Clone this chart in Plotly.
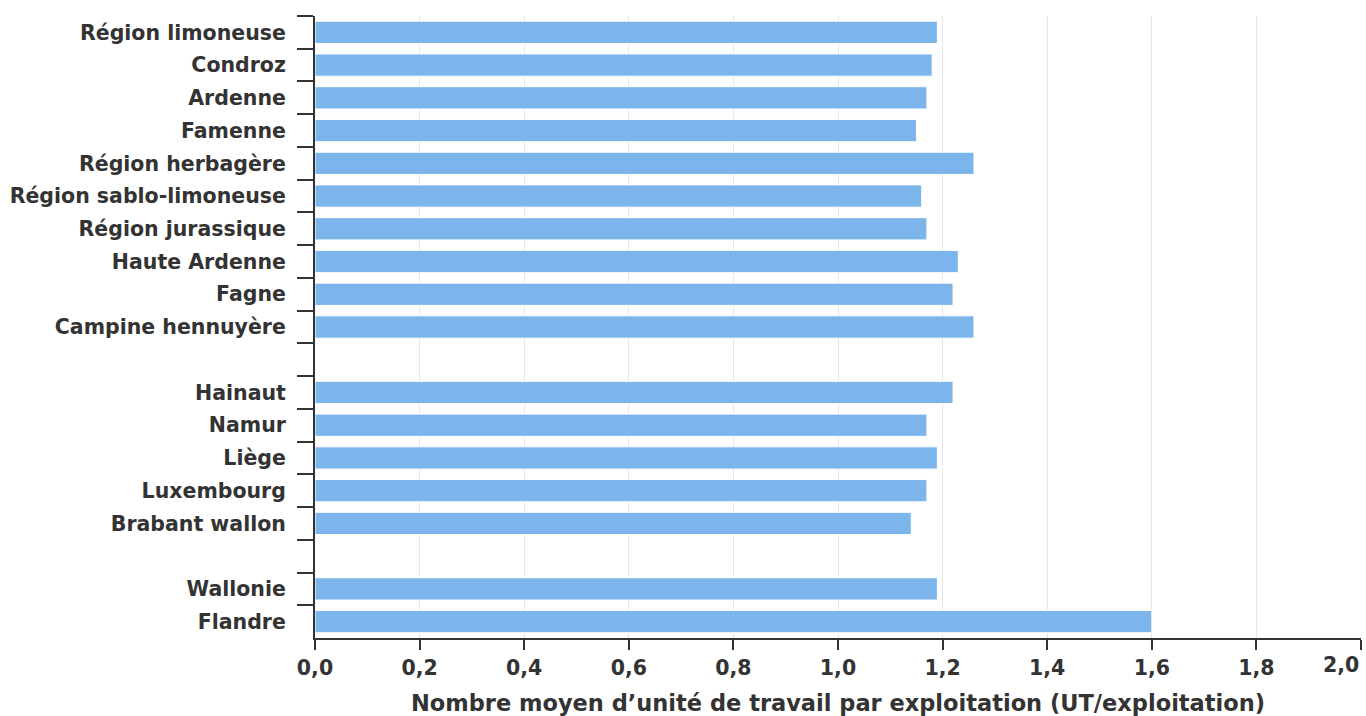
import plotly.graph_objects as go

categories = [
    "Région limoneuse", "Condroz", "Ardenne", "Famenne", "Région herbagère",
    "Région sablo-limoneuse", "Région jurassique", "Haute Ardenne", "Fagne",
    "Campine hennuyère", " ", "Hainaut", "Namur", "Liège", "Luxembourg",
    "Brabant wallon", "  ", "Wallonie", "Flandre",
]
values = [
    1.19, 1.18, 1.17, 1.15, 1.26,
    1.16, 1.17, 1.23, 1.22,
    1.26, None, 1.22, 1.17, 1.19, 1.17,
    1.14, None, 1.19, 1.60,
]
x_ticks = [0.0, 0.2, 0.4, 0.6, 0.8, 1.0, 1.2, 1.4, 1.6, 1.8, 2.0]
x_ticklabels = ["0,0", "0,2", "0,4", "0,6", "0,8", "1,0", "1,2", "1,4", "1,6", "1,8", "2,0"]
x_title = "Nombre moyen d’unité de travail par exploitation (UT/exploitation)"

FONT = "DejaVu Sans"
TXT = "#333333"
TICK_SIZE = 20.5

fig = go.Figure(go.Bar(
    x=values, y=categories, orientation="h",
    marker=dict(color="#7cb5ec", line=dict(color="#ffffff", width=1)),
    hoverinfo="x+y",
))

# last tick label is drawn inside the figure (shifted left), like the reference
shown_ticktext = x_ticklabels[:-1] + [""]

fig.update_layout(
    width=1366, height=716,
    margin=dict(l=315, r=5, t=16, b=78, autoexpand=False),
    paper_bgcolor="white", plot_bgcolor="white",
    separators=", ",
    bargap=0.32,
    showlegend=False,
    font=dict(family=FONT, color=TXT),
    annotations=[dict(
        x=x_ticks[-1], xref="x", y=0, yref="paper",
        text=x_ticklabels[-1], showarrow=False,
        xanchor="right", yanchor="top", yshift=-13,
        font=dict(family=FONT, size=TICK_SIZE, color=TXT, weight="bold"),
    )],
)
fig.update_xaxes(
    range=[0, 2.0], tickvals=x_ticks, ticktext=shown_ticktext,
    showgrid=True, gridcolor="#e6e6e6", gridwidth=1, zeroline=False,
    showline=True, linecolor=TXT, linewidth=2,
    ticks="outside", ticklen=10, tickwidth=2, tickcolor=TXT,
    tickfont=dict(family=FONT, size=TICK_SIZE, color=TXT, weight="bold"),
    title=dict(text=x_title, standoff=18,
               font=dict(family=FONT, size=22.5, color=TXT, weight="bold")),
    automargin=False,
)
fig.update_yaxes(
    type="category", categoryorder="array", categoryarray=categories,
    autorange="reversed",
    showgrid=False, zeroline=False,
    showline=True, linecolor=TXT, linewidth=2,
    ticks="outside", tickson="boundaries", ticklen=16, tickwidth=2, tickcolor=TXT,
    ticklabelstandoff=23,
    tickfont=dict(family=FONT, size=TICK_SIZE, color=TXT, weight="bold"),
    automargin=False,
)

fig.write_html("out.html", config={"displayModeBar": False},
               post_script="document.body.style.margin='0';")
